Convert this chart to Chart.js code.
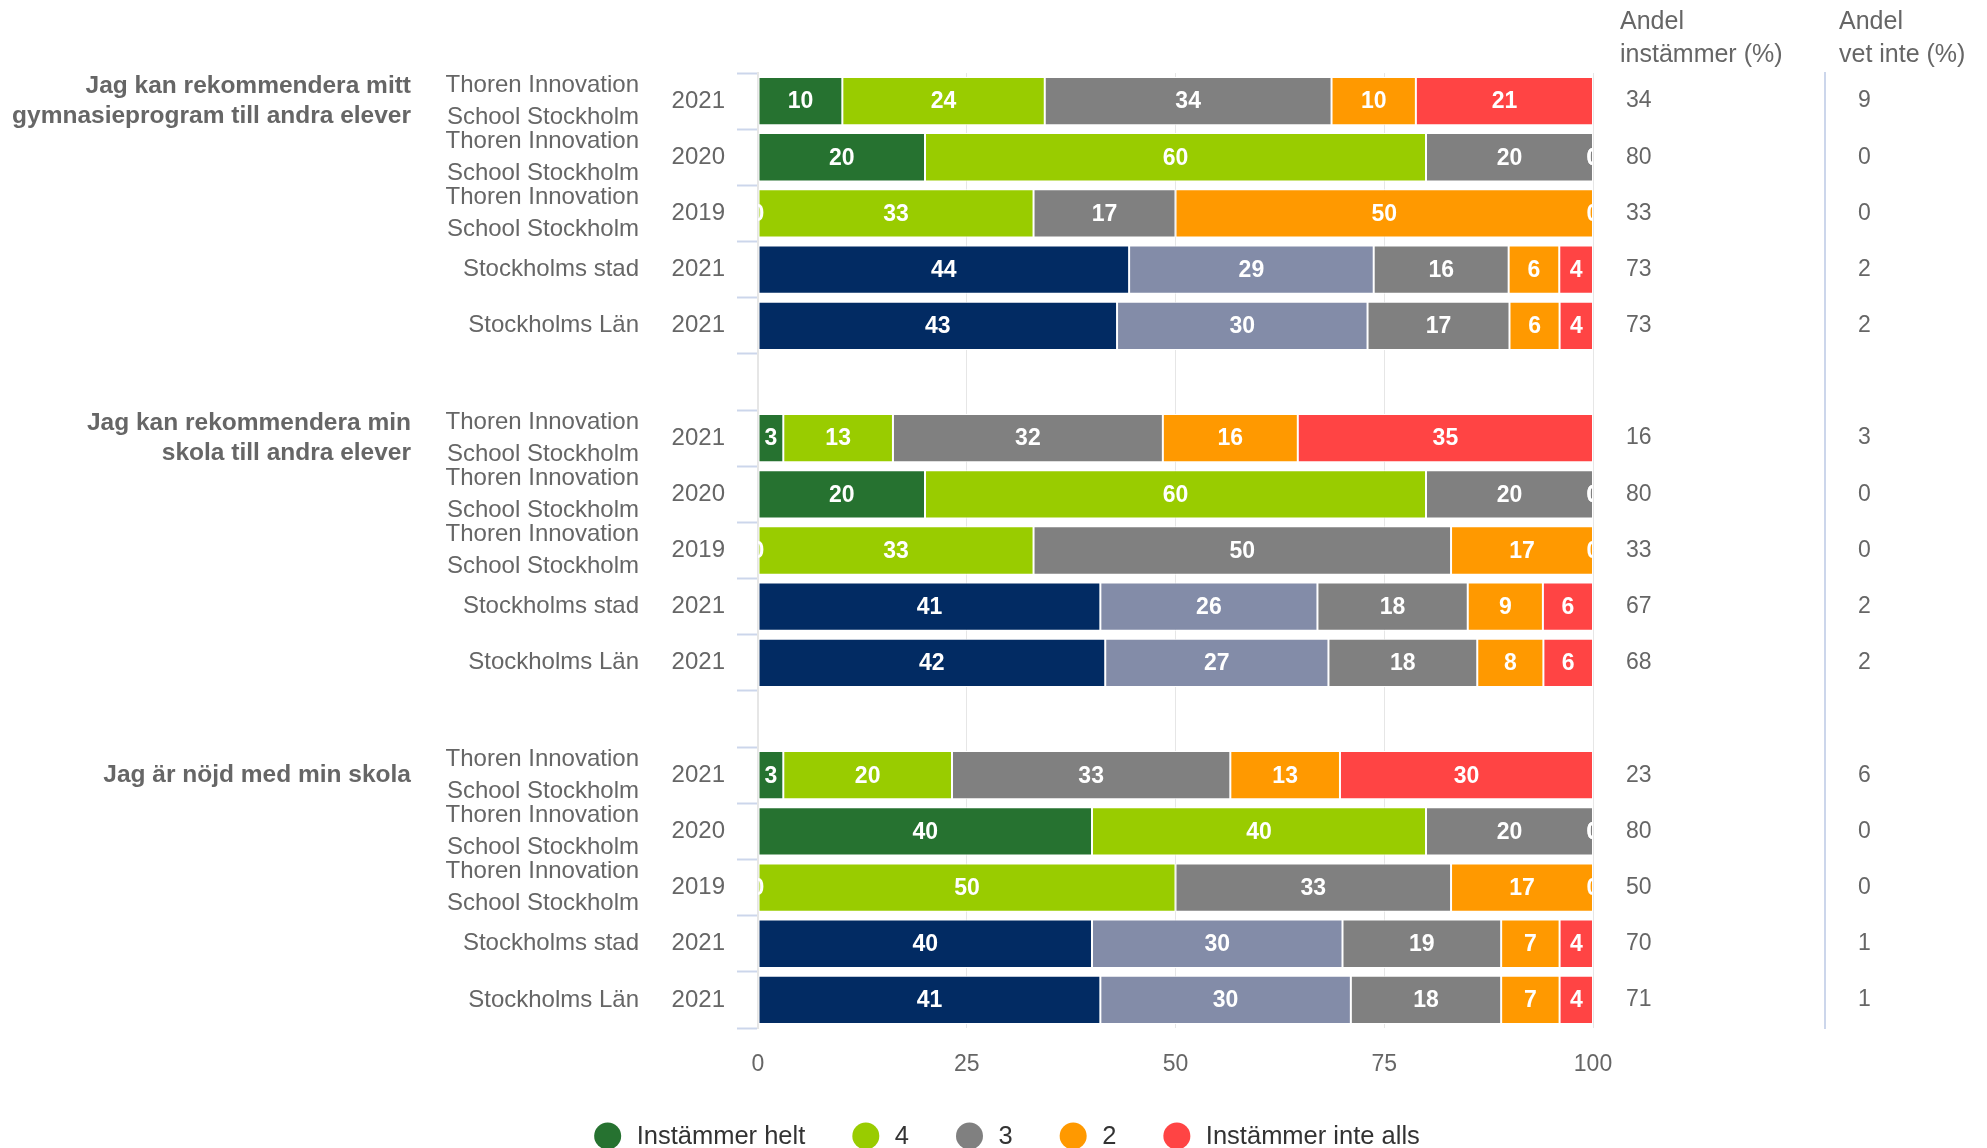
<!DOCTYPE html>
<html lang="sv">
<head>
<meta charset="utf-8">
<title>Enkätresultat</title>
<script src="https://cdn.jsdelivr.net/npm/chart.js@4.4.1/dist/chart.umd.min.js"></script>
<style>
  html, body { margin: 0; padding: 0; background: #ffffff; }
  #wrap { width: 1987px; height: 1148px; }
</style>
</head>
<body>
<div id="wrap"><canvas id="chart"></canvas></div>
<script>
// frågor, enheter och år (en rad per enhet, fem rader per fråga)
const questions = [
  ['Jag kan rekommendera mitt', 'gymnasieprogram till andra elever'],
  ['Jag kan rekommendera min', 'skola till andra elever'],
  ['Jag är nöjd med min skola']
];
const units = [
  ['Thoren Innovation', 'School Stockholm'],
  ['Thoren Innovation', 'School Stockholm'],
  ['Thoren Innovation', 'School Stockholm'],
  'Stockholms stad',
  'Stockholms Län'
];
const years = ['2021', '2020', '2019', '2021', '2021'];
const regionRow = [false, false, false, true, true];
const answers = ['Instämmer helt', '4', '3', '2', 'Instämmer inte alls'];

// andel (%) per svarsalternativ, fråga för fråga
const helt     = [10, 20,  0, 44, 43,   3, 20,  0, 41, 42,   3, 40,  0, 40, 41];
const fyra     = [24, 60, 33, 29, 30,  13, 60, 33, 26, 27,  20, 40, 50, 30, 30];
const tre      = [34, 20, 17, 16, 17,  32, 20, 50, 18, 18,  33, 20, 33, 19, 18];
const tva      = [10,  0, 50,  6,  6,  16,  0, 17,  9,  8,  13,  0, 17,  7,  7];
const inteAlls = [21,  0,  0,  4,  4,  35,  0,  0,  6,  6,  30,  0,  0,  4,  4];

const andelInstammer = [34, 80, 33, 73, 73,  16, 80, 33, 67, 68,  23, 80, 50, 70, 71];
const andelVetInte   = [ 9,  0,  0,  2,  2,   3,  0,  0,  2,  2,   6,  0,  0,  1,  1];

const xTicks = [0, 25, 50, 75, 100];

const schoolColors = ['#267230', '#99cc00', '#808080', '#ff9900', '#ff4444'];
const regionColors = ['#022b63', '#838ca8', '#808080', '#ff9900', '#ff4444'];

const FONT = '"Liberation Sans", Arial, Helvetica, sans-serif';
Chart.defaults.font.family = FONT;
Chart.defaults.color = '#666666';

// rader inkl. en tom rad mellan frågorna
const rows = [];
questions.forEach((q, qi) => {
  if (qi > 0) rows.push(null);
  units.forEach((u, ui) => rows.push({ q: qi, u: ui, i: qi * units.length + ui }));
});

const yearLabels = rows.map(r => r ? years[r.u] : '');
const unitLabels = rows.map(r => r ? units[r.u] : '');
const questionLabels = rows.map(r => r && r.u === 0 ? questions[r.q] : '');
const instLabels = rows.map(r => r ? String(andelInstammer[r.i]) : '');
const vetLabels = rows.map(r => r ? String(andelVetInte[r.i]) : '');

const series = [helt, fyra, tre, tva, inteAlls];
// staplarna fylls till 100 % (procentstapling), etiketterna visar avläst värde
const rowSums = rows.map(r => r ? series.reduce((s, arr) => s + arr[r.i], 0) : 0);

const datasets = answers.map((name, si) => ({
  label: name,
  data: rows.map((r, k) => r ? series[si][r.i] / rowSums[k] * 100 : null),
  shown: rows.map(r => r ? series[si][r.i] : null),
  backgroundColor: rows.map(r => r && regionRow[r.u] ? regionColors[si] : schoolColors[si]),
  borderColor: '#ffffff',
  borderWidth: 1,
  borderSkipped: false,
  barPercentage: 0.86,
  categoryPercentage: 1
}));

const barLabels = {
  id: 'barLabels',
  afterDatasetsDraw(chart) {
    const { ctx, chartArea } = chart;
    ctx.save();
    ctx.beginPath();
    ctx.rect(chartArea.left, chartArea.top, chartArea.width, chartArea.height);
    ctx.clip();
    ctx.font = 'bold 23px ' + FONT;
    ctx.fillStyle = '#ffffff';
    ctx.textAlign = 'center';
    ctx.textBaseline = 'middle';
    chart.data.datasets.forEach((ds, di) => {
      chart.getDatasetMeta(di).data.forEach((bar, k) => {
        const v = ds.shown[k];
        if (v === null) return;
        ctx.fillText(String(v), (bar.x + bar.base) / 2, bar.y + 1);
      });
    });
    ctx.restore();
  }
};

const extras = {
  id: 'extras',
  afterDraw(chart) {
    const { ctx } = chart;
    ctx.save();
    // kolumnrubriker
    ctx.font = '25px ' + FONT;
    ctx.fillStyle = '#666666';
    ctx.textAlign = 'left';
    ctx.textBaseline = 'middle';
    const a = chart.scales.yAndel, v = chart.scales.yVet;
    ctx.fillText('Andel', a.left + 27, 22);
    ctx.fillText('instämmer (%)', a.left + 27, 55);
    ctx.fillText('Andel', v.left + 14, 22);
    ctx.fillText('vet inte (%)', v.left + 14, 55);

    // förklaring
    ctx.font = '25.5px ' + FONT;
    const r = 13.5, toText = 29, gap = 47, cy = 1136;
    const widths = answers.map(t => 2 * r + (toText - r) + ctx.measureText(t).width);
    const total = widths.reduce((s, w) => s + w, 0) + gap * (answers.length - 1);
    let x = 1007 - total / 2;
    answers.forEach((t, i) => {
      ctx.fillStyle = schoolColors[i];
      ctx.beginPath();
      ctx.arc(x + r, cy, r, 0, Math.PI * 2);
      ctx.fill();
      ctx.fillStyle = '#333333';
      ctx.fillText(t, x + r + toText, cy + 1);
      x += widths[i] + gap;
    });
    ctx.restore();
  }
};

new Chart(document.getElementById('chart'), {
  type: 'bar',
  data: { labels: yearLabels, datasets },
  plugins: [barLabels, extras],
  options: {
    indexAxis: 'y',
    responsive: true,
    maintainAspectRatio: false,
    animation: false,
    layout: { padding: { left: 6, right: 0, top: 73, bottom: 60 } },
    plugins: { legend: { display: false }, tooltip: { enabled: false } },
    scales: {
      x: {
        stacked: true, min: 0, max: 100,
        afterBuildTicks: s => { s.ticks = xTicks.map(value => ({ value })); },
        grid: { color: '#e6e6e6', drawTicks: false },
        border: { display: false },
        ticks: { padding: 23, color: '#666666', font: { size: 23 } },
        afterFit: s => { s.height = 60; }
      },
      y: {
        stacked: true, position: 'left', weight: 0, offset: true,
        grid: { offset: true, drawOnChartArea: false, tickLength: 21, tickColor: '#ccd6eb', tickWidth: 2 },
        border: { color: '#e6e6e6', width: 2 },
        ticks: { autoSkip: false, padding: 12, color: '#666666', font: { size: 24 } },
        afterFit: s => { s.width = 86; }
      },
      yUnit: {
        type: 'category', labels: unitLabels, position: 'left', weight: 1, offset: true,
        grid: { display: false, drawTicks: false },
        border: { display: false },
        ticks: { autoSkip: false, padding: 33, color: '#666666', font: { size: 24, lineHeight: 1.33 } },
        afterFit: s => { s.width = 226; }
      },
      yQuestion: {
        type: 'category', labels: questionLabels, position: 'left', weight: 2, offset: true,
        grid: { display: false, drawTicks: false },
        border: { display: false },
        ticks: { autoSkip: false, padding: 35, color: '#666666', font: { size: 24.5, weight: 'bold', lineHeight: 1.25 } },
        afterFit: s => { s.width = 440; }
      },
      yAndel: {
        type: 'category', labels: instLabels, position: 'right', weight: 0, offset: true,
        grid: { display: false, drawTicks: false },
        border: { display: false },
        ticks: { autoSkip: false, padding: 33, color: '#666666', font: { size: 23 } },
        afterFit: s => { s.width = 232; }
      },
      yVet: {
        type: 'category', labels: vetLabels, position: 'right', weight: 1, offset: true,
        grid: { display: false, drawTicks: false },
        border: { display: true, color: '#ccd6eb', width: 2 },
        ticks: { autoSkip: false, padding: 33, color: '#666666', font: { size: 23 } },
        afterFit: s => { s.width = 162; }
      }
    }
  }
});
</script>
</body>
</html>
